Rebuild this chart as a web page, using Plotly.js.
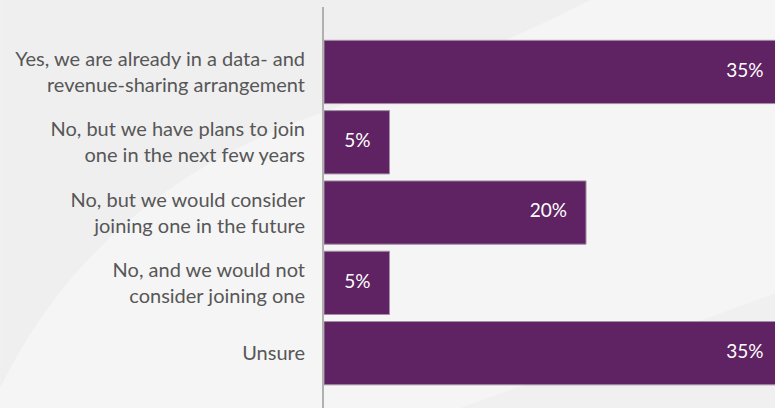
<!DOCTYPE html>
<html>
<head>
<meta charset="utf-8">
<script src="https://cdn.plot.ly/plotly-3.0.1.min.js"></script>
<style>html,body{margin:0;padding:0;background:#f5f5f5;overflow:hidden;width:775px;height:408px;}#chart{width:790px;height:408px;}</style>
</head>
<body>
<div id="chart"></div>
<script>
const categories = [
  "Yes, we are already in a data- and<br>revenue-sharing arrangement",
  "No, but we have plans to join<br>one in the next few years",
  "No, but we would consider<br>joining one in the future",
  "No, and we would not<br>consider joining one",
  "Unsure"
];
const values = [35, 5, 20, 5, 35];
const valueLabels = ["35%", "5%", "20%", "5%", "35%"];

const xMax = 35.57;
const labelShift = 1.45;

const bars = {
  type: "bar",
  orientation: "h",
  x: values,
  y: categories,
  marker: {color: "#5f2363", line: {color: "#a48fa6", width: 1}},
  hoverinfo: "none"
};
const labels = {
  type: "scatter",
  mode: "text",
  x: values,
  y: categories,
  xaxis: "x2",
  text: valueLabels,
  textposition: "middle left",
  textfont: {family: "Lato, 'Open Sans', sans-serif", size: 19, color: "#ffffff"},
  cliponaxis: false,
  hoverinfo: "none"
};

const layout = {
  width: 790, height: 408,
  margin: {l: 324, r: 0, t: 7, b: 0, pad: 0},
  paper_bgcolor: "#f5f5f5",
  plot_bgcolor: "rgba(0,0,0,0)",
  bargap: 0.1,
  showlegend: false,
  font: {family: "Lato, 'Open Sans', sans-serif", color: "#555555"},
  xaxis: {range: [0, xMax], visible: false, showgrid: false, zeroline: false, fixedrange: true},
  xaxis2: {range: [labelShift, xMax + labelShift], overlaying: "x", anchor: "y", visible: false, showgrid: false, zeroline: false, fixedrange: true},
  yaxis: {
    type: "category",
    range: [4.78, -0.924],
    showline: true, linecolor: "#b0b0b0", linewidth: 2,
    showgrid: false, zeroline: false,
    ticks: "outside", ticklen: 13, tickcolor: "rgba(0,0,0,0)",
    tickfont: {size: 20, color: "#575757"},
    fixedrange: true
  },
  shapes: [
    {type: "path", xref: "paper", yref: "paper", layer: "below",
     path: "M -0.695 0.05 Q -0.484 0.55 0.013 0.743 Q 0.34 0.88 0.577 1.02 L -0.695 1.02 Z",
     fillcolor: "rgba(0,0,0,0.022)", line: {width: 0}},
    {type: "path", xref: "paper", yref: "paper", layer: "below",
     path: "M 0.292 0 L 1 0.3 L 1 0 Z",
     fillcolor: "rgba(0,0,0,0.02)", line: {width: 0}}
  ]
};

Plotly.newPlot("chart", [bars, labels], layout, {displayModeBar: false, staticPlot: true});
</script>
</body>
</html>
